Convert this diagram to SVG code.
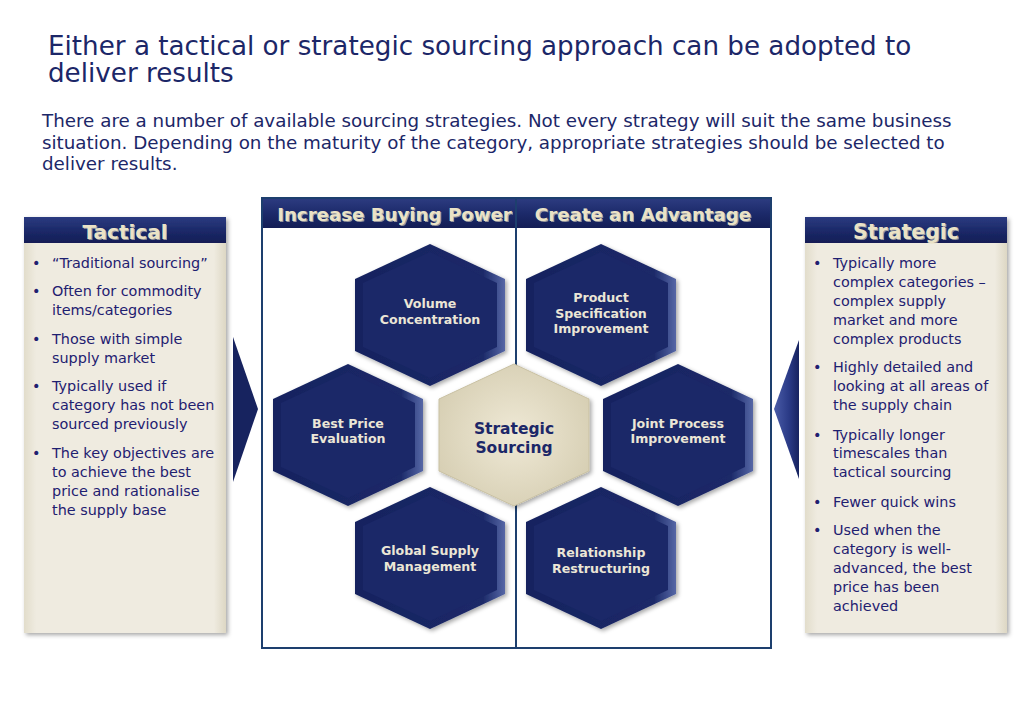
<svg xmlns="http://www.w3.org/2000/svg" width="1023" height="708" viewBox="0 0 1023 708">
<style>
.title{font-family:"DejaVu Sans",Verdana,sans-serif;font-size:26.2px;fill:#1c2768}
.sub{font-family:"DejaVu Sans",Verdana,sans-serif;font-size:18.3px;fill:#1c2768}
.bul{font-family:"DejaVu Sans",Verdana,sans-serif;font-size:14.4px;fill:#1e2070}
.hdr{font-family:"DejaVu Sans",Verdana,sans-serif;font-weight:bold;fill:#eae2c6;text-anchor:middle}
.hx{font-family:"DejaVu Sans",Verdana,sans-serif;font-weight:bold;font-size:12.6px;fill:#ebe6d6;text-anchor:middle}
.hxc{font-family:"DejaVu Sans",Verdana,sans-serif;font-weight:bold;font-size:15.5px;fill:#1c2768;text-anchor:middle}
</style>
<defs>
<linearGradient id="hexg" x1="0" y1="0" x2="1" y2="0">
<stop offset="0" stop-color="#17235f"/>
<stop offset="0.85" stop-color="#1b2968"/>
<stop offset="1" stop-color="#5667a6"/>
</linearGradient>
<radialGradient id="cg" cx="0.5" cy="0.5" r="0.6">
<stop offset="0" stop-color="#efe9d6"/>
<stop offset="1" stop-color="#d5cdb1"/>
</radialGradient>
<linearGradient id="bandg" x1="0" y1="0" x2="0" y2="1">
<stop offset="0" stop-color="#2c3b80"/>
<stop offset="0.5" stop-color="#1c2a6a"/>
<stop offset="1" stop-color="#131d55"/>
</linearGradient>
<linearGradient id="bodyg" x1="0" y1="0" x2="1" y2="0">
<stop offset="0" stop-color="#e2ddcb"/>
<stop offset="0.06" stop-color="#efebe0"/>
<stop offset="0.94" stop-color="#efebe0"/>
<stop offset="1" stop-color="#ddd7c4"/>
</linearGradient>
<linearGradient id="arrg" x1="0" y1="0" x2="1" y2="0">
<stop offset="0" stop-color="#4a5ca8"/>
<stop offset="0.6" stop-color="#2a3a86"/>
<stop offset="1" stop-color="#17235f"/>
</linearGradient>
<filter id="sh" x="-10%" y="-10%" width="130%" height="130%">
<feDropShadow dx="2" dy="2" stdDeviation="2" flood-color="#000" flood-opacity="0.35"/>
</filter>
<polygon id="hex" points="0,-71 75,-36 75,36 0,71 -75,36 -75,-36"/>
<polygon id="hexin" points="0,-63 67,-32 67,32 0,63 -67,32 -67,-32"/>
</defs>
<rect width="1023" height="708" fill="#ffffff"/>

<g id="title">
<text class="title" x="48" y="55">Either a tactical or strategic sourcing approach can be adopted to</text>
<text class="title" x="48" y="82">deliver results</text>
</g>
<g id="subtitle">
<text class="sub" x="42" y="127">There are a number of available sourcing strategies. Not every strategy will suit the same business</text>
<text class="sub" x="42" y="148.5">situation. Depending on the maturity of the category, appropriate strategies should be selected to</text>
<text class="sub" x="42" y="170">deliver results.</text>
</g>

<g id="frame">
<rect x="262" y="198" width="509" height="450" fill="#ffffff" stroke="#1d3f6e" stroke-width="2"/>
<rect x="263" y="199" width="507" height="29" fill="url(#bandg)"/>
<line x1="516" y1="199" x2="516" y2="647" stroke="#1d3f6e" stroke-width="2"/>
<text class="hdr" x="394.5" y="220.5" font-size="18.2" fill="#000" opacity="0.6" transform="translate(1.2,1.2)">Increase Buying Power</text>
<text class="hdr" x="394.5" y="220.5" font-size="18.2">Increase Buying Power</text>
<text class="hdr" x="643" y="220.5" font-size="18.2" fill="#000" opacity="0.6" transform="translate(1.2,1.2)">Create an Advantage</text>
<text class="hdr" x="643" y="220.5" font-size="18.2">Create an Advantage</text>
</g>

<g id="tactical" filter="url(#sh)">
<rect x="24" y="243" width="202" height="390" fill="url(#bodyg)"/>
<rect x="24" y="217" width="202" height="26" fill="url(#bandg)"/>
</g>
<g id="tactical-text">
<text class="hdr" x="126.2" y="240.2" font-size="20" fill="#000" opacity="0.6">Tactical</text>
<text class="hdr" x="125" y="239" font-size="20">Tactical</text>
<g class="bul">
<text x="32" y="268">•</text><text x="52" y="268">“Traditional sourcing”</text>
<text x="32" y="296">•</text><text x="52" y="296">Often for commodity</text>
<text x="52" y="315">items/categories</text>
<text x="32" y="344">•</text><text x="52" y="344">Those with simple</text>
<text x="52" y="363">supply market</text>
<text x="32" y="391">•</text><text x="52" y="391">Typically used if</text>
<text x="52" y="410">category has not been</text>
<text x="52" y="429">sourced previously</text>
<text x="32" y="458">•</text><text x="52" y="458">The key objectives are</text>
<text x="52" y="477">to achieve the best</text>
<text x="52" y="496">price and rationalise</text>
<text x="52" y="515">the supply base</text>
</g>
</g>

<g id="strategic" filter="url(#sh)">
<rect x="805" y="243" width="202" height="390" fill="url(#bodyg)"/>
<rect x="805" y="217" width="202" height="26" fill="url(#bandg)"/>
</g>
<g id="strategic-text">
<text class="hdr" x="907.2" y="240.2" font-size="20.5" fill="#000" opacity="0.6">Strategic</text>
<text class="hdr" x="906" y="239" font-size="20.5">Strategic</text>
<g class="bul">
<text x="813" y="268">•</text><text x="833" y="268">Typically more</text>
<text x="833" y="287">complex categories –</text>
<text x="833" y="306">complex supply</text>
<text x="833" y="325">market and more</text>
<text x="833" y="344">complex products</text>
<text x="813" y="372">•</text><text x="833" y="372">Highly detailed and</text>
<text x="833" y="391">looking at all areas of</text>
<text x="833" y="410">the supply chain</text>
<text x="813" y="440">•</text><text x="833" y="440">Typically longer</text>
<text x="833" y="458">timescales than</text>
<text x="833" y="477">tactical sourcing</text>
<text x="813" y="507">•</text><text x="833" y="507">Fewer quick wins</text>
<text x="813" y="535">•</text><text x="833" y="535">Used when the</text>
<text x="833" y="554">category is well-</text>
<text x="833" y="573">advanced, the best</text>
<text x="833" y="592">price has been</text>
<text x="833" y="611">achieved</text>
</g>
</g>

<g id="connectors">
<polygon points="233,337 258,409 233,482" fill="#17235f"/>
<polygon points="799,340 774,409 799,479" fill="url(#arrg)"/>
</g>

<g id="volume" transform="translate(430,315)">
<use href="#hex" fill="url(#hexg)" filter="url(#sh)"/>
<use href="#hexin" fill="#1b2868"/>
<text class="hx" y="-7">Volume</text>
<text class="hx" y="9">Concentration</text>
</g>
<g id="product" transform="translate(601,315)">
<use href="#hex" fill="url(#hexg)" filter="url(#sh)"/>
<use href="#hexin" fill="#1b2868"/>
<text class="hx" y="-13">Product</text>
<text class="hx" y="2.5">Specification</text>
<text class="hx" y="18">Improvement</text>
</g>
<g id="bestprice" transform="translate(348,435)">
<use href="#hex" fill="url(#hexg)" filter="url(#sh)"/>
<use href="#hexin" fill="#1b2868"/>
<text class="hx" y="-7.5">Best Price</text>
<text class="hx" y="8">Evaluation</text>
</g>
<g id="strategic-sourcing" transform="translate(514,435)">
<use href="#hex" fill="url(#cg)" stroke="#c9c1a3" stroke-width="1" filter="url(#sh)"/>
<text class="hxc" y="-1.5">Strategic</text>
<text class="hxc" y="17.5">Sourcing</text>
</g>
<g id="joint" transform="translate(678,435)">
<use href="#hex" fill="url(#hexg)" filter="url(#sh)"/>
<use href="#hexin" fill="#1b2868"/>
<text class="hx" y="-7.5">Joint Process</text>
<text class="hx" y="8">Improvement</text>
</g>
<g id="global" transform="translate(430,558)">
<use href="#hex" fill="url(#hexg)" filter="url(#sh)"/>
<use href="#hexin" fill="#1b2868"/>
<text class="hx" y="-3">Global Supply</text>
<text class="hx" y="12.5">Management</text>
</g>
<g id="relationship" transform="translate(601,558)">
<use href="#hex" fill="url(#hexg)" filter="url(#sh)"/>
<use href="#hexin" fill="#1b2868"/>
<text class="hx" y="-1">Relationship</text>
<text class="hx" y="14.5">Restructuring</text>
</g>
</svg>
